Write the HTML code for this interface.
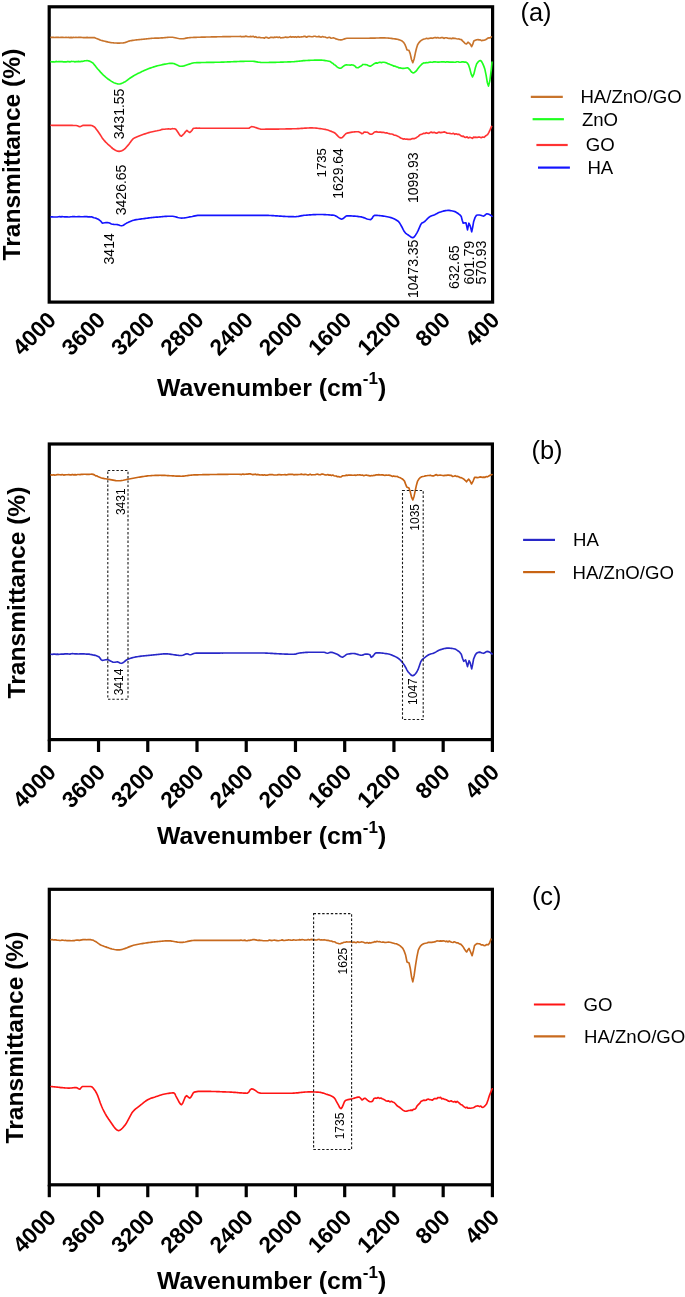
<!DOCTYPE html>
<html><head><meta charset="utf-8"><title>FTIR</title>
<style>html,body{margin:0;padding:0;background:#fff;overflow:hidden;}svg{display:block;will-change:transform;}text{font-family:"Liberation Sans",sans-serif;}</style>
</head><body>
<svg width="685" height="1297" viewBox="0 0 685 1297">
<rect width="685" height="1297" fill="#fff"/>
<rect x="49.2" y="6.8" width="443.40" height="295.30" fill="none" stroke="#000" stroke-width="3.2" stroke-linejoin="miter"/>
<text x="57.40" y="321.30" font-size="22.6" font-weight="bold" text-anchor="end" transform="rotate(-45 57.40 321.30)">4000</text>
<text x="106.67" y="321.30" font-size="22.6" font-weight="bold" text-anchor="end" transform="rotate(-45 106.67 321.30)">3600</text>
<text x="155.93" y="321.30" font-size="22.6" font-weight="bold" text-anchor="end" transform="rotate(-45 155.93 321.30)">3200</text>
<text x="205.20" y="321.30" font-size="22.6" font-weight="bold" text-anchor="end" transform="rotate(-45 205.20 321.30)">2800</text>
<text x="254.47" y="321.30" font-size="22.6" font-weight="bold" text-anchor="end" transform="rotate(-45 254.47 321.30)">2400</text>
<text x="303.73" y="321.30" font-size="22.6" font-weight="bold" text-anchor="end" transform="rotate(-45 303.73 321.30)">2000</text>
<text x="353.00" y="321.30" font-size="22.6" font-weight="bold" text-anchor="end" transform="rotate(-45 353.00 321.30)">1600</text>
<text x="402.27" y="321.30" font-size="22.6" font-weight="bold" text-anchor="end" transform="rotate(-45 402.27 321.30)">1200</text>
<text x="451.53" y="321.30" font-size="22.6" font-weight="bold" text-anchor="end" transform="rotate(-45 451.53 321.30)">800</text>
<text x="500.80" y="321.30" font-size="22.6" font-weight="bold" text-anchor="end" transform="rotate(-45 500.80 321.30)">400</text>
<text x="157" y="395.8" font-size="24.8" font-weight="bold">Wavenumber (cm<tspan dy="-11.5" font-size="17">-1</tspan><tspan dy="11.5">)</tspan></text>
<text x="19.9" y="154.6" font-size="24.6" font-weight="bold" text-anchor="middle" transform="rotate(-90 19.9 154.6)">Transmittance (%)</text>
<rect x="49.3" y="444.0" width="443.10" height="295.60" fill="none" stroke="#000" stroke-width="3.2" stroke-linejoin="miter"/>
<line x1="49.30" y1="739.60" x2="49.30" y2="752.00" stroke="#000" stroke-width="3.2"/>
<text x="57.50" y="773.60" font-size="22.6" font-weight="bold" text-anchor="end" transform="rotate(-45 57.50 773.60)">4000</text>
<line x1="98.53" y1="739.60" x2="98.53" y2="752.00" stroke="#000" stroke-width="3.2"/>
<text x="106.73" y="773.60" font-size="22.6" font-weight="bold" text-anchor="end" transform="rotate(-45 106.73 773.60)">3600</text>
<line x1="147.77" y1="739.60" x2="147.77" y2="752.00" stroke="#000" stroke-width="3.2"/>
<text x="155.97" y="773.60" font-size="22.6" font-weight="bold" text-anchor="end" transform="rotate(-45 155.97 773.60)">3200</text>
<line x1="197.00" y1="739.60" x2="197.00" y2="752.00" stroke="#000" stroke-width="3.2"/>
<text x="205.20" y="773.60" font-size="22.6" font-weight="bold" text-anchor="end" transform="rotate(-45 205.20 773.60)">2800</text>
<line x1="246.23" y1="739.60" x2="246.23" y2="752.00" stroke="#000" stroke-width="3.2"/>
<text x="254.43" y="773.60" font-size="22.6" font-weight="bold" text-anchor="end" transform="rotate(-45 254.43 773.60)">2400</text>
<line x1="295.47" y1="739.60" x2="295.47" y2="752.00" stroke="#000" stroke-width="3.2"/>
<text x="303.67" y="773.60" font-size="22.6" font-weight="bold" text-anchor="end" transform="rotate(-45 303.67 773.60)">2000</text>
<line x1="344.70" y1="739.60" x2="344.70" y2="752.00" stroke="#000" stroke-width="3.2"/>
<text x="352.90" y="773.60" font-size="22.6" font-weight="bold" text-anchor="end" transform="rotate(-45 352.90 773.60)">1600</text>
<line x1="393.93" y1="739.60" x2="393.93" y2="752.00" stroke="#000" stroke-width="3.2"/>
<text x="402.13" y="773.60" font-size="22.6" font-weight="bold" text-anchor="end" transform="rotate(-45 402.13 773.60)">1200</text>
<line x1="443.17" y1="739.60" x2="443.17" y2="752.00" stroke="#000" stroke-width="3.2"/>
<text x="451.37" y="773.60" font-size="22.6" font-weight="bold" text-anchor="end" transform="rotate(-45 451.37 773.60)">800</text>
<line x1="492.40" y1="739.60" x2="492.40" y2="752.00" stroke="#000" stroke-width="3.2"/>
<text x="500.60" y="773.60" font-size="22.6" font-weight="bold" text-anchor="end" transform="rotate(-45 500.60 773.60)">400</text>
<text x="157" y="844.4" font-size="24.8" font-weight="bold">Wavenumber (cm<tspan dy="-11.5" font-size="17">-1</tspan><tspan dy="11.5">)</tspan></text>
<text x="24.8" y="592.5" font-size="24.6" font-weight="bold" text-anchor="middle" transform="rotate(-90 24.8 592.5)">Transmittance (%)</text>
<rect x="49.3" y="889.3" width="443.10" height="295.50" fill="none" stroke="#000" stroke-width="3.2" stroke-linejoin="miter"/>
<line x1="49.30" y1="1184.80" x2="49.30" y2="1197.20" stroke="#000" stroke-width="3.2"/>
<text x="57.50" y="1218.80" font-size="22.6" font-weight="bold" text-anchor="end" transform="rotate(-45 57.50 1218.80)">4000</text>
<line x1="98.53" y1="1184.80" x2="98.53" y2="1197.20" stroke="#000" stroke-width="3.2"/>
<text x="106.73" y="1218.80" font-size="22.6" font-weight="bold" text-anchor="end" transform="rotate(-45 106.73 1218.80)">3600</text>
<line x1="147.77" y1="1184.80" x2="147.77" y2="1197.20" stroke="#000" stroke-width="3.2"/>
<text x="155.97" y="1218.80" font-size="22.6" font-weight="bold" text-anchor="end" transform="rotate(-45 155.97 1218.80)">3200</text>
<line x1="197.00" y1="1184.80" x2="197.00" y2="1197.20" stroke="#000" stroke-width="3.2"/>
<text x="205.20" y="1218.80" font-size="22.6" font-weight="bold" text-anchor="end" transform="rotate(-45 205.20 1218.80)">2800</text>
<line x1="246.23" y1="1184.80" x2="246.23" y2="1197.20" stroke="#000" stroke-width="3.2"/>
<text x="254.43" y="1218.80" font-size="22.6" font-weight="bold" text-anchor="end" transform="rotate(-45 254.43 1218.80)">2400</text>
<line x1="295.47" y1="1184.80" x2="295.47" y2="1197.20" stroke="#000" stroke-width="3.2"/>
<text x="303.67" y="1218.80" font-size="22.6" font-weight="bold" text-anchor="end" transform="rotate(-45 303.67 1218.80)">2000</text>
<line x1="344.70" y1="1184.80" x2="344.70" y2="1197.20" stroke="#000" stroke-width="3.2"/>
<text x="352.90" y="1218.80" font-size="22.6" font-weight="bold" text-anchor="end" transform="rotate(-45 352.90 1218.80)">1600</text>
<line x1="393.93" y1="1184.80" x2="393.93" y2="1197.20" stroke="#000" stroke-width="3.2"/>
<text x="402.13" y="1218.80" font-size="22.6" font-weight="bold" text-anchor="end" transform="rotate(-45 402.13 1218.80)">1200</text>
<line x1="443.17" y1="1184.80" x2="443.17" y2="1197.20" stroke="#000" stroke-width="3.2"/>
<text x="451.37" y="1218.80" font-size="22.6" font-weight="bold" text-anchor="end" transform="rotate(-45 451.37 1218.80)">800</text>
<line x1="492.40" y1="1184.80" x2="492.40" y2="1197.20" stroke="#000" stroke-width="3.2"/>
<text x="500.60" y="1218.80" font-size="22.6" font-weight="bold" text-anchor="end" transform="rotate(-45 500.60 1218.80)">400</text>
<text x="157" y="1289.4" font-size="24.8" font-weight="bold">Wavenumber (cm<tspan dy="-11.5" font-size="17">-1</tspan><tspan dy="11.5">)</tspan></text>
<text x="23.4" y="1037.5" font-size="24.6" font-weight="bold" text-anchor="middle" transform="rotate(-90 23.4 1037.5)">Transmittance (%)</text>
<polyline points="51.0,37.40 52.2,37.38 53.5,37.26 54.7,37.51 56.0,37.36 57.2,37.38 58.5,37.34 59.7,37.45 61.0,37.33 62.2,37.32 63.5,37.42 64.7,37.46 66.0,37.35 67.2,37.46 68.5,37.41 69.7,37.59 71.0,37.34 72.2,37.60 73.4,37.44 74.7,37.47 75.9,37.37 77.2,37.54 78.4,37.39 79.7,37.44 80.9,37.35 82.2,37.45 83.4,37.65 84.7,37.66 85.9,37.60 87.2,37.39 88.4,37.68 89.7,37.67 90.9,37.65 92.2,37.49 93.4,37.60 94.7,37.64 95.9,38.17 97.2,38.71 98.5,39.31 99.7,39.87 101.0,40.30 102.3,40.64 103.6,40.98 104.9,41.31 106.2,41.62 107.5,41.92 108.7,42.19 110.0,42.43 111.3,42.63 112.6,42.79 113.9,42.90 115.1,42.97 116.2,43.04 117.3,43.08 118.5,43.10 119.7,43.08 120.8,43.04 122.0,42.98 123.2,42.90 124.4,42.72 125.5,42.38 126.7,41.95 127.9,41.50 129.0,41.09 130.2,40.80 131.5,40.58 132.7,40.38 134.0,40.20 135.3,40.04 136.6,39.89 137.8,39.75 139.1,39.62 140.4,39.49 141.7,39.36 142.9,39.23 144.2,39.10 145.4,38.97 146.5,38.84 147.7,38.71 148.9,38.59 150.1,38.47 151.2,38.38 152.4,38.30 153.7,38.24 154.9,38.19 156.2,38.14 157.5,38.10 158.7,38.06 160.0,38.00 161.3,37.92 162.5,37.82 163.8,37.71 165.1,37.59 166.3,37.47 167.6,37.37 168.9,37.28 170.1,37.22 171.4,37.20 172.6,37.27 173.8,37.45 175.1,37.71 176.3,38.00 177.5,38.29 178.8,38.55 180.0,38.73 181.2,38.80 182.5,38.74 183.7,38.59 185.0,38.39 186.2,38.15 187.5,37.92 188.7,37.72 190.0,37.60 191.2,37.53 192.5,37.46 193.8,37.40 195.0,37.35 196.2,37.31 197.5,37.27 198.8,37.23 200.0,37.20 201.3,37.17 202.5,37.14 203.8,37.11 205.1,37.07 206.3,37.04 207.6,37.01 208.9,36.98 210.1,36.95 211.4,36.93 212.7,36.90 213.9,36.87 215.2,36.84 216.4,36.81 217.7,36.79 219.0,36.76 220.2,36.74 221.5,36.71 222.8,36.69 224.0,36.66 225.3,36.64 226.6,36.62 227.8,36.60 229.1,36.58 230.4,36.56 231.6,36.54 232.9,36.52 234.2,36.51 235.4,36.49 236.7,36.48 237.9,36.47 239.2,36.45 240.5,36.36 241.7,36.82 243.0,36.50 244.3,36.65 245.5,36.14 246.8,36.43 248.1,36.61 249.3,36.73 250.6,36.40 251.9,36.75 253.1,36.30 254.4,37.11 255.7,36.66 256.9,37.46 258.2,37.42 259.5,37.22 260.7,37.74 262.0,37.70 263.2,37.72 264.5,38.15 265.7,37.22 267.0,37.33 268.2,38.14 269.4,37.96 270.7,37.26 271.9,37.31 273.2,37.60 274.4,37.18 275.6,37.32 276.9,37.01 278.1,37.64 279.4,36.97 280.6,37.85 281.8,37.74 283.1,37.57 284.3,37.51 285.5,37.07 286.8,37.34 288.0,37.39 289.3,37.07 290.5,36.62 291.7,37.15 293.0,36.81 294.2,37.07 295.5,36.85 296.7,37.35 297.9,36.57 299.2,37.12 300.4,37.03 301.7,36.87 302.9,36.80 304.1,36.37 305.3,36.44 306.6,37.23 307.8,36.48 309.0,36.41 310.2,36.52 311.5,36.76 312.7,36.74 313.9,36.21 315.2,36.21 316.4,36.70 317.6,36.70 318.8,36.40 320.1,36.86 321.3,37.11 322.5,36.49 323.7,37.00 325.0,37.02 326.2,37.53 327.4,37.83 328.6,37.44 329.9,37.42 331.1,38.22 332.3,38.00 333.5,37.75 334.8,38.37 336.0,38.91 337.3,39.27 338.5,39.59 339.8,39.81 341.0,39.90 342.2,39.74 343.4,39.34 344.6,38.87 345.8,38.47 347.0,38.30 348.2,38.29 349.4,38.28 350.7,38.27 351.9,38.26 353.1,38.26 354.3,38.25 355.6,38.25 356.8,38.24 358.0,38.24 359.2,38.24 360.4,38.24 361.7,38.23 362.9,38.23 364.1,38.23 365.3,38.22 366.6,38.22 367.8,38.21 369.0,38.20 370.2,38.19 371.4,38.16 372.6,38.14 373.9,38.11 375.1,38.07 376.3,38.04 377.5,38.00 378.7,37.97 380.0,37.94 381.2,37.92 382.4,37.91 383.6,37.90 384.9,37.92 386.1,37.97 387.4,38.04 388.7,38.15 389.9,38.27 391.2,38.41 392.5,38.56 393.7,38.73 395.0,38.90 396.2,39.08 397.4,39.31 398.6,39.60 399.8,39.96 401.0,40.40 402.4,41.24 403.8,42.60 404.9,44.45 406.0,47.00 407.0,49.90 407.9,50.06 408.9,50.20 410.2,53.60 411.5,59.54 412.8,62.70 414.1,58.96 415.4,52.80 416.5,48.29 417.6,44.80 418.8,42.82 420.1,41.40 421.3,40.40 422.8,39.51 424.2,39.00 425.4,38.69 426.6,38.27 427.9,38.72 429.1,38.40 430.3,37.96 431.5,38.06 432.7,38.31 433.9,37.81 435.1,37.45 436.4,37.88 437.6,37.54 438.8,37.90 440.1,38.05 441.4,37.56 442.6,37.49 443.9,38.43 445.2,37.78 446.4,37.78 447.7,38.13 449.0,38.37 450.3,38.41 451.6,38.65 452.8,38.09 454.1,38.39 455.4,38.43 456.6,38.73 457.9,38.94 459.2,39.00 460.3,39.54 461.4,39.62 462.5,40.89 463.6,41.90 465.1,43.45 466.5,44.00 468.0,42.20 469.5,43.30 470.6,44.70 471.6,46.70 472.7,44.42 473.8,41.10 475.3,40.32 476.8,39.70 478.0,39.65 479.1,39.89 480.3,39.87 481.4,40.61 482.6,40.40 484.1,40.14 485.5,39.70 486.7,38.98 487.8,38.13 489.0,37.88 490.1,37.92 491.3,36.80" fill="none" stroke="#c8742c" stroke-width="1.65" stroke-linejoin="round" stroke-linecap="round"/>
<polyline points="51.0,61.70 52.3,61.81 53.5,61.78 54.8,61.96 56.0,61.42 57.3,61.76 58.6,61.51 59.8,61.64 61.1,61.51 62.3,61.61 63.6,61.94 64.9,61.84 66.1,61.91 67.4,61.45 68.7,61.58 69.9,61.87 71.2,61.42 72.4,61.51 73.7,61.45 75.0,61.89 76.2,61.54 77.5,61.65 78.7,61.41 80.0,61.70 81.2,61.36 82.3,61.36 83.5,61.23 84.6,60.71 85.8,60.70 87.0,60.68 88.2,60.74 89.3,61.13 90.5,61.59 91.7,62.30 92.9,62.91 94.0,64.35 95.2,65.78 96.3,67.30 97.5,68.70 98.7,70.02 99.9,71.36 101.0,72.68 102.2,73.94 103.4,75.10 104.6,76.15 105.7,77.16 106.9,78.10 108.0,78.99 109.2,79.80 110.4,80.58 111.5,81.35 112.7,82.05 113.8,82.65 115.0,83.10 116.4,83.52 117.7,83.86 119.1,84.00 120.4,83.82 121.8,83.36 123.1,82.75 124.4,82.10 125.6,81.44 126.7,80.63 127.9,79.73 129.0,78.83 130.2,78.00 131.4,77.23 132.6,76.49 133.7,75.78 134.9,75.10 136.1,74.46 137.2,73.86 138.4,73.27 139.6,72.70 140.7,72.14 141.9,71.60 143.1,71.06 144.2,70.52 145.4,69.99 146.6,69.48 147.8,68.99 148.9,68.53 150.1,68.10 151.3,67.67 152.6,67.26 153.8,66.85 155.1,66.47 156.3,66.11 157.5,65.78 158.8,65.47 160.0,65.20 161.2,64.94 162.4,64.68 163.7,64.42 164.9,64.17 166.1,63.94 167.3,63.73 168.5,63.55 169.8,63.42 171.0,63.33 172.2,63.30 173.5,63.47 174.8,63.89 176.1,64.48 177.3,65.12 178.6,65.71 179.9,66.13 181.2,66.30 182.5,66.19 183.9,65.89 185.2,65.47 186.6,64.99 188.0,64.51 189.3,64.10 190.5,63.72 191.8,63.32 193.0,62.98 194.2,62.80 195.4,62.74 196.7,62.68 197.9,62.64 199.1,62.59 200.3,62.56 201.6,62.52 202.8,62.49 204.0,62.47 205.3,62.45 206.5,62.43 207.7,62.41 208.9,62.39 210.2,62.37 211.4,62.36 212.6,62.34 213.9,62.32 215.1,62.30 216.3,62.28 217.5,62.26 218.8,62.23 220.0,62.20 221.3,62.16 222.5,62.12 223.8,62.08 225.0,62.04 226.3,61.99 227.6,61.94 228.8,61.89 230.1,61.83 231.3,61.78 232.6,61.73 233.9,61.67 235.1,61.62 236.4,61.57 237.6,61.52 238.9,61.47 240.2,61.43 241.4,61.38 242.7,61.34 243.9,61.31 245.2,61.28 246.5,61.25 247.7,61.23 249.0,61.21 250.2,61.20 251.5,61.20 252.8,61.26 254.1,61.40 255.4,61.61 256.8,61.85 258.1,62.09 259.4,62.30 260.7,62.44 262.0,62.50 263.2,62.50 264.5,62.49 265.7,62.49 267.0,62.47 268.2,62.46 269.4,62.44 270.7,62.42 271.9,62.40 273.2,62.38 274.4,62.35 275.6,62.32 276.9,62.29 278.1,62.25 279.4,62.22 280.6,62.18 281.8,62.14 283.1,62.09 284.3,62.05 285.6,62.00 286.8,61.96 288.0,61.91 289.3,61.86 290.5,61.81 291.8,61.75 293.0,61.70 294.3,61.63 295.6,61.52 296.9,61.39 298.2,61.25 299.5,61.10 300.8,60.95 302.1,60.81 303.4,60.68 304.7,60.58 306.0,60.50 307.2,60.45 308.4,60.39 309.6,60.34 310.8,60.29 312.0,60.25 313.2,60.20 314.4,60.17 315.6,60.14 316.8,60.12 318.0,60.10 319.2,60.10 320.4,60.12 321.6,60.19 322.9,60.29 324.1,60.42 325.3,60.58 326.6,60.77 327.8,60.98 329.0,61.20 330.3,61.54 331.6,62.66 332.8,63.20 334.1,64.63 335.4,65.27 336.7,66.56 337.9,67.43 339.2,68.08 340.5,68.20 341.7,67.65 342.9,66.61 344.2,65.67 345.4,65.00 346.6,64.79 347.8,65.02 349.0,65.05 350.3,65.17 351.5,64.80 352.7,65.00 353.8,65.37 354.9,66.06 356.1,67.38 357.2,67.70 358.4,67.68 359.5,66.78 360.7,66.29 361.9,65.42 363.0,64.45 364.2,64.50 365.5,64.65 366.8,64.79 368.1,65.42 369.4,66.11 370.7,66.10 371.8,65.35 372.9,64.58 374.0,63.80 375.2,63.17 376.5,62.88 377.7,63.11 379.0,62.37 380.2,62.25 381.5,62.60 382.7,62.30 383.9,62.29 385.2,62.51 386.4,62.85 387.7,63.59 388.9,63.87 390.2,64.51 391.4,65.02 392.7,65.60 393.9,66.12 395.1,66.18 396.4,66.85 397.6,67.05 398.8,67.88 400.0,67.91 401.3,68.17 402.5,68.34 403.7,68.40 404.9,68.24 406.1,67.96 407.3,67.80 408.5,68.33 409.7,69.60 410.8,71.10 412.0,72.37 413.2,72.90 414.5,72.49 415.8,71.40 417.1,69.86 418.4,68.08 419.8,66.27 421.1,64.96 422.4,63.72 423.7,62.90 425.0,62.98 426.3,62.62 427.5,62.71 428.8,62.42 430.1,62.03 431.4,62.29 432.7,62.30 433.9,61.75 435.2,61.83 436.5,62.00 437.8,62.17 439.0,62.16 440.3,62.04 441.6,61.77 442.8,61.86 444.1,61.84 445.4,62.29 446.7,61.84 447.9,61.92 449.2,62.11 450.5,62.10 451.7,62.04 453.0,62.09 454.3,62.22 455.5,62.25 456.8,61.77 458.1,61.72 459.4,62.25 460.6,62.25 461.9,61.92 463.2,61.94 464.4,62.11 465.7,62.00 467.1,62.85 468.5,64.70 469.8,68.71 471.2,74.16 472.5,76.90 473.9,73.94 475.3,68.07 476.7,63.80 477.9,62.20 479.1,60.98 480.3,60.50 481.4,61.28 482.6,63.31 483.8,66.14 484.9,69.30 486.1,75.13 487.3,82.48 488.5,86.10 489.9,80.52 491.3,69.30 492.0,62.00" fill="none" stroke="#1eff1e" stroke-width="1.65" stroke-linejoin="round" stroke-linecap="round"/>
<polyline points="51.0,125.30 52.2,125.31 53.5,125.32 54.8,125.32 56.0,125.33 57.2,125.34 58.5,125.34 59.8,125.35 61.0,125.35 62.2,125.36 63.5,125.36 64.8,125.37 66.0,125.38 67.2,125.38 68.5,125.40 69.8,125.41 71.0,125.42 72.2,125.44 73.5,125.46 74.8,125.48 76.0,125.50 77.3,125.80 78.6,126.32 79.9,126.60 81.1,126.26 82.3,125.64 83.5,125.30 84.7,125.30 85.8,125.30 87.0,125.30 88.2,125.30 89.3,125.30 90.5,125.30 91.7,125.51 92.8,126.03 94.0,126.70 95.2,127.70 96.3,129.15 97.5,130.83 98.7,132.50 99.9,134.22 101.1,136.08 102.2,137.90 103.4,139.50 104.6,140.85 105.7,142.10 106.9,143.26 108.0,144.35 109.2,145.40 110.4,146.45 111.5,147.50 112.7,148.49 113.8,149.34 115.0,150.00 116.4,150.65 117.7,151.18 119.1,151.40 120.5,151.19 121.8,150.67 123.2,150.00 124.4,149.19 125.6,148.04 126.7,146.72 127.9,145.40 129.1,143.99 130.2,142.39 131.4,140.80 132.5,139.40 133.7,138.40 134.9,137.73 136.1,137.20 137.2,136.75 138.4,136.30 139.7,135.79 141.0,135.29 142.3,134.80 143.6,134.33 144.9,133.88 146.2,133.45 147.5,133.04 148.8,132.65 150.1,132.30 151.2,132.01 152.4,131.75 153.6,131.51 154.7,131.27 155.8,131.04 157.0,130.80 158.3,130.51 159.6,130.19 160.9,129.83 162.2,129.36 163.5,129.21 164.8,129.20 166.0,128.98 167.2,129.05 168.5,128.72 169.7,128.98 170.9,129.07 172.2,128.67 173.4,128.75 174.6,128.70 175.8,129.33 176.9,130.80 178.1,132.48 179.2,134.19 180.3,135.68 181.5,136.10 182.8,134.92 184.2,133.51 185.6,131.53 186.9,130.40 188.3,131.57 189.7,132.50 190.8,131.65 191.9,130.43 193.1,128.59 194.2,128.20 195.4,128.14 196.7,128.03 197.9,128.24 199.2,128.05 200.4,128.20 201.7,128.20 202.9,128.20 204.2,128.20 205.4,128.20 206.7,128.20 207.9,128.20 209.1,128.20 210.4,128.20 211.6,128.20 212.9,128.20 214.1,128.20 215.4,128.20 216.6,128.20 217.9,128.20 219.1,128.20 220.4,128.20 221.6,128.20 222.8,128.20 224.1,128.20 225.3,128.20 226.6,128.20 227.8,128.20 229.1,128.20 230.3,128.20 231.6,128.20 232.8,128.20 234.1,128.20 235.3,128.20 236.5,128.20 237.8,128.20 239.0,128.20 240.3,128.20 241.5,128.20 242.8,128.20 244.0,128.20 245.3,128.20 246.5,128.20 247.8,128.20 249.0,128.20 250.2,127.40 251.5,126.60 252.8,126.71 254.1,127.01 255.4,127.42 256.8,127.90 258.1,128.38 259.4,128.79 260.7,129.09 262.0,129.20 263.3,129.20 264.5,129.20 265.8,129.19 267.1,129.19 268.4,129.18 269.6,129.17 270.9,129.16 272.2,129.15 273.4,129.13 274.7,129.12 276.0,129.10 277.2,129.09 278.5,129.07 279.8,129.05 281.1,129.03 282.3,129.00 283.6,128.98 284.9,128.96 286.1,128.93 287.4,128.90 288.7,128.88 289.9,128.85 291.2,128.82 292.5,128.79 293.8,128.76 295.0,128.73 296.3,128.70 297.5,128.66 298.8,128.60 300.0,128.52 301.2,128.44 302.4,128.35 303.6,128.25 304.9,128.16 306.1,128.08 307.3,128.01 308.6,127.95 309.8,127.91 311.0,127.90 312.3,127.92 313.6,127.97 314.9,128.05 316.2,128.16 317.5,128.29 318.8,128.45 320.1,128.62 321.4,128.80 322.7,129.00 324.0,129.20 325.2,129.43 326.5,129.71 327.8,130.06 329.0,130.45 330.2,130.90 331.5,131.39 332.8,131.92 334.0,132.50 335.2,133.29 336.3,134.42 337.5,135.67 338.7,136.82 339.8,137.67 341.0,138.00 342.2,137.53 343.4,136.41 344.6,135.02 345.8,133.79 347.0,133.10 348.3,132.82 349.6,132.57 350.8,132.35 352.1,132.15 353.4,131.99 354.7,131.87 355.9,131.78 357.2,131.72 358.5,131.70 359.6,132.19 360.6,132.70 361.7,133.60 362.8,133.48 363.9,132.17 365.0,132.00 366.3,132.29 367.7,132.29 369.0,133.49 370.4,134.26 371.7,134.20 373.1,133.38 374.5,132.00 375.7,131.84 376.9,131.69 378.1,132.24 379.4,132.02 380.6,132.09 381.8,132.40 383.0,132.22 384.2,132.53 385.4,132.98 386.6,132.88 387.9,133.32 389.1,133.63 390.3,133.96 391.5,133.98 392.7,134.20 394.1,135.12 395.4,135.20 396.8,135.85 398.2,136.40 399.4,137.10 400.6,138.02 401.9,138.36 403.1,139.10 404.3,138.72 405.5,139.20 406.8,139.11 408.1,139.36 409.4,139.32 410.7,139.34 412.0,138.66 413.3,138.58 414.6,138.60 415.8,138.03 417.1,137.15 418.3,136.40 419.6,135.09 421.0,134.36 422.4,133.93 423.7,133.30 425.0,133.54 426.3,132.68 427.6,133.19 429.0,133.33 430.3,132.39 431.6,132.13 432.9,132.80 434.2,132.22 435.5,132.92 436.8,133.20 438.1,132.34 439.4,132.17 440.7,132.61 442.0,132.40 443.3,132.18 444.6,131.92 445.9,132.44 447.2,133.22 448.5,133.26 449.8,133.31 451.1,133.70 452.3,133.63 453.5,133.32 454.8,134.33 456.0,133.80 457.2,134.36 458.4,134.20 459.6,134.64 460.8,135.75 462.0,136.34 463.3,136.09 464.5,137.15 465.7,137.50 467.1,136.85 468.4,138.03 469.8,137.28 471.2,137.70 472.4,138.36 473.6,137.11 474.9,137.36 476.1,137.17 477.3,137.54 478.5,137.00 479.9,137.19 481.2,137.72 482.6,136.98 484.0,137.30 485.2,136.29 486.4,135.41 487.6,134.60 488.9,132.44 490.3,129.42 491.6,126.40" fill="none" stroke="#ff3333" stroke-width="1.65" stroke-linejoin="round" stroke-linecap="round"/>
<polyline points="51.0,216.90 52.2,216.71 53.5,216.97 54.7,216.95 55.9,216.97 57.2,216.98 58.4,216.71 59.6,216.67 60.9,216.90 62.1,216.63 63.4,216.76 64.6,216.85 65.8,216.87 67.1,216.84 68.3,216.97 69.5,216.97 70.8,216.70 72.0,216.69 73.2,216.56 74.5,216.60 75.7,216.72 76.9,216.79 78.2,216.62 79.4,216.56 80.7,216.79 81.9,216.78 83.1,216.71 84.4,216.56 85.6,216.58 86.8,216.61 88.1,216.84 89.3,216.70 90.5,216.94 91.7,216.77 92.8,217.41 94.0,217.75 95.2,217.98 96.4,218.40 97.7,218.98 99.1,219.78 100.4,220.80 102.2,223.10 103.5,223.01 104.8,222.80 106.1,222.59 107.4,222.50 108.7,222.75 110.1,223.33 111.4,223.94 112.7,224.30 113.9,224.39 115.1,224.45 116.2,224.51 117.4,224.60 118.8,224.98 120.1,225.52 121.5,225.80 122.8,225.49 124.1,224.75 125.4,223.86 126.7,223.10 127.9,222.55 129.0,221.99 130.2,221.45 131.4,220.95 132.5,220.53 133.7,220.20 135.0,219.92 136.3,219.66 137.6,219.44 138.9,219.24 140.2,219.06 141.5,218.89 142.8,218.73 144.1,218.57 145.4,218.40 146.6,218.24 147.8,218.09 149.0,217.94 150.2,217.80 151.4,217.66 152.6,217.53 153.8,217.41 155.0,217.30 156.3,217.19 157.5,217.07 158.8,216.96 160.0,216.84 161.3,216.73 162.6,216.62 163.8,216.52 165.1,216.43 166.4,216.36 167.6,216.29 168.9,216.24 170.1,216.21 171.4,216.20 172.7,216.28 174.0,216.50 175.3,216.80 176.6,217.15 177.8,217.50 179.1,217.80 180.4,218.02 181.7,218.10 183.0,218.05 184.4,217.91 185.7,217.71 187.0,217.46 188.3,217.20 189.7,216.93 191.0,216.70 192.3,216.45 193.7,216.14 195.1,215.84 196.4,215.57 197.8,215.37 199.1,215.30 200.4,215.30 201.6,215.30 202.9,215.30 204.1,215.30 205.4,215.30 206.6,215.30 207.9,215.30 209.2,215.30 210.4,215.30 211.7,215.30 212.9,215.30 214.2,215.30 215.5,215.30 216.7,215.30 218.0,215.30 219.2,215.30 220.5,215.30 221.7,215.30 223.0,215.30 224.3,215.30 225.5,215.30 226.8,215.30 228.0,215.30 229.3,215.30 230.6,215.30 231.8,215.30 233.1,215.30 234.3,215.30 235.6,215.30 236.8,215.30 238.1,215.30 239.4,215.30 240.6,215.30 241.9,215.30 243.1,215.30 244.4,215.30 245.6,215.30 246.9,215.30 248.2,215.30 249.4,215.30 250.7,215.30 251.9,215.30 253.2,215.30 254.5,215.30 255.7,215.30 257.0,215.30 258.2,215.30 259.5,215.30 260.7,215.30 262.0,215.30 263.3,215.31 264.5,215.32 265.8,215.35 267.0,215.39 268.3,215.44 269.5,215.49 270.8,215.55 272.1,215.62 273.3,215.69 274.6,215.76 275.8,215.84 277.1,215.92 278.4,216.00 279.6,216.08 280.9,216.16 282.1,216.24 283.4,216.31 284.6,216.38 285.9,216.45 287.2,216.51 288.4,216.56 289.7,216.61 290.9,216.65 292.2,216.68 293.4,216.69 294.7,216.70 295.9,216.65 297.1,216.52 298.4,216.33 299.6,216.10 300.8,215.86 302.1,215.63 303.3,215.44 304.5,215.30 305.7,215.20 306.9,215.10 308.2,215.01 309.4,214.92 310.6,214.83 311.9,214.75 313.1,214.68 314.3,214.62 315.5,214.57 316.8,214.53 318.0,214.51 319.2,214.50 320.4,214.51 321.7,214.52 322.9,214.55 324.1,214.59 325.4,214.64 326.6,214.71 327.8,214.78 329.1,214.86 330.3,214.96 331.5,215.06 332.8,215.18 334.0,215.30 335.3,215.68 336.7,216.41 338.0,217.31 339.3,218.18 340.7,218.84 342.0,219.10 343.2,218.58 344.5,217.45 345.8,216.32 347.0,215.80 348.3,215.81 349.6,215.85 350.9,215.90 352.2,215.98 353.5,216.07 354.8,216.17 356.1,216.29 357.4,216.42 358.7,216.56 360.0,216.70 361.2,216.91 362.4,217.23 363.6,217.63 364.8,218.07 365.9,218.52 367.1,218.94 368.3,219.28 369.5,219.51 370.7,219.60 372.0,218.49 373.2,216.41 374.5,215.30 375.8,215.32 377.0,215.37 378.3,215.46 379.6,215.58 380.9,215.72 382.1,215.88 383.4,216.07 384.7,216.27 385.9,216.48 387.2,216.70 388.4,216.95 389.6,217.25 390.9,217.62 392.1,218.05 393.3,218.55 394.5,219.12 395.8,219.77 397.0,220.50 398.2,221.30 399.4,222.60 400.6,224.61 401.9,226.99 403.1,229.41 404.3,231.56 405.5,233.10 406.9,234.14 408.2,235.00 409.4,235.84 410.5,236.72 411.6,237.42 412.8,237.70 414.1,236.93 415.5,235.14 416.8,233.10 418.1,230.68 419.4,227.65 420.6,224.84 421.9,223.10 423.7,222.20 425.0,221.24 426.2,220.01 427.5,218.70 428.7,217.50 430.0,216.60 431.2,216.04 432.4,215.59 433.5,215.17 434.7,214.70 435.9,214.10 437.1,213.42 438.3,212.79 439.5,212.30 440.7,211.91 441.9,211.53 443.1,211.17 444.4,210.86 445.6,210.62 446.8,210.46 448.0,210.40 449.1,210.44 450.3,210.56 451.4,210.73 452.6,210.95 453.7,211.20 454.9,211.60 456.1,212.20 457.3,212.96 458.5,213.80 459.9,214.89 461.3,216.60 462.2,220.28 463.2,223.20 464.1,223.00 465.1,222.80 466.0,222.80 467.5,229.90 468.9,223.20 470.3,226.10 471.7,231.80 472.6,227.58 473.6,221.80 475.1,217.37 476.5,215.20 477.9,215.05 479.3,215.00 480.7,215.29 482.2,215.81 483.6,216.10 484.7,215.50 485.8,214.40 486.9,213.80 488.2,214.01 489.4,214.54 490.7,215.20 492.1,216.30" fill="none" stroke="#1414ff" stroke-width="1.65" stroke-linejoin="round" stroke-linecap="round"/>
<polyline points="51.0,474.90 52.3,475.06 53.5,474.72 54.8,475.14 56.0,475.04 57.3,474.62 58.6,474.55 59.8,474.75 61.1,474.86 62.3,474.51 63.6,475.06 64.9,474.88 66.1,474.78 67.4,474.75 68.7,474.51 69.9,474.88 71.2,474.86 72.4,474.42 73.7,474.87 75.0,474.59 76.2,474.92 77.5,474.54 78.7,474.45 80.0,474.60 81.3,474.39 82.6,474.43 83.9,474.22 85.2,474.23 86.6,474.36 87.9,474.37 89.2,474.35 90.5,474.30 91.8,474.18 93.1,474.39 94.4,474.87 95.7,475.83 97.0,475.93 98.3,476.83 99.6,477.29 100.9,477.73 102.2,478.10 103.4,478.36 104.5,478.59 105.7,478.81 106.9,479.02 108.1,479.22 109.2,479.41 110.4,479.60 111.8,479.84 113.1,480.11 114.5,480.37 115.8,480.59 117.2,480.74 118.5,480.80 119.7,480.75 120.8,480.63 122.0,480.44 123.2,480.21 124.4,479.95 125.6,479.68 126.7,479.43 127.9,479.20 129.2,478.96 130.5,478.72 131.8,478.47 133.2,478.22 134.5,477.98 135.8,477.74 137.1,477.51 138.4,477.30 139.7,477.09 141.0,476.88 142.3,476.67 143.6,476.46 144.9,476.27 146.2,476.09 147.5,475.93 148.8,475.80 150.1,475.70 151.3,475.62 152.6,475.55 153.8,475.48 155.1,475.42 156.3,475.37 157.5,475.33 158.8,475.31 160.0,475.30 161.2,475.31 162.5,475.33 163.7,475.37 164.9,475.43 166.2,475.49 167.4,475.56 168.6,475.63 169.9,475.71 171.1,475.79 172.4,475.87 173.6,475.94 174.8,476.01 176.1,476.07 177.3,476.13 178.5,476.17 179.8,476.19 181.0,476.20 182.3,476.17 183.6,476.08 184.9,475.94 186.2,475.77 187.5,475.59 188.8,475.41 190.1,475.23 191.4,475.08 192.7,474.96 194.0,474.90 195.2,474.87 196.5,474.84 197.8,474.81 199.0,474.78 200.2,474.75 201.5,474.72 202.8,474.69 204.0,474.67 205.2,474.64 206.5,474.62 207.8,474.59 209.0,474.57 210.2,474.55 211.5,474.52 212.8,474.50 214.0,474.48 215.2,474.46 216.5,474.45 217.8,474.43 219.0,474.41 220.2,474.39 221.5,474.38 222.8,474.36 224.0,474.35 225.2,474.34 226.5,474.32 227.8,474.31 229.0,474.30 230.2,474.29 231.5,474.28 232.8,474.27 234.0,474.26 235.2,474.25 236.5,474.24 237.8,474.24 239.0,474.23 240.2,474.31 241.5,474.61 242.8,473.99 244.0,474.39 245.2,474.22 246.5,474.09 247.8,474.11 249.0,473.93 250.2,473.84 251.5,474.20 252.8,474.61 254.1,474.44 255.4,474.12 256.8,474.82 258.1,474.39 259.4,474.94 260.7,474.95 262.0,474.90 263.3,475.17 264.5,474.81 265.8,475.30 267.1,475.07 268.4,474.82 269.6,474.51 270.9,474.62 272.2,474.48 273.4,474.82 274.7,475.05 276.0,474.97 277.2,474.86 278.5,474.65 279.8,474.49 281.1,474.94 282.3,474.80 283.6,474.77 284.9,474.66 286.1,474.85 287.4,474.65 288.7,474.34 289.9,474.42 291.2,474.35 292.5,474.33 293.8,474.86 295.0,474.69 296.3,474.50 297.6,474.60 298.8,474.46 300.1,474.49 301.3,474.14 302.6,474.48 303.9,474.58 305.1,474.37 306.4,474.51 307.6,474.95 308.9,474.87 310.1,474.12 311.4,474.90 312.7,474.77 313.9,474.78 315.2,474.77 316.4,474.24 317.7,474.17 319.0,474.63 320.2,474.80 321.5,474.14 322.7,474.06 324.0,474.50 325.2,474.93 326.5,474.98 327.8,474.52 329.0,475.19 330.2,474.90 331.5,475.59 332.8,475.06 334.0,475.70 335.1,476.05 336.3,476.04 337.4,476.75 338.6,476.47 339.7,477.00 341.1,476.85 342.4,475.81 343.8,475.80 345.0,475.63 346.2,475.17 347.5,475.35 348.7,475.05 349.9,475.12 351.1,475.18 352.4,475.29 353.6,475.21 354.8,475.07 356.1,475.34 357.3,474.93 358.5,475.00 359.8,474.71 361.1,475.26 362.4,475.06 363.8,475.69 365.1,475.31 366.4,475.07 367.7,475.43 369.0,475.60 370.2,475.99 371.4,475.50 372.7,475.74 373.9,475.23 375.1,475.35 376.3,474.77 377.6,474.81 378.8,474.66 380.0,475.00 381.2,474.93 382.5,474.89 383.8,475.16 385.0,475.33 386.2,475.06 387.5,475.20 388.8,475.12 390.0,475.36 391.2,475.75 392.5,476.39 393.8,475.93 395.0,476.40 396.2,476.52 397.3,476.44 398.5,477.29 399.6,477.55 400.8,478.10 402.0,478.77 403.3,479.73 404.5,481.10 405.6,484.14 406.7,486.90 407.8,487.41 408.9,487.90 410.2,491.47 411.5,497.08 412.8,500.00 414.1,496.18 415.4,489.80 416.5,484.91 417.6,481.10 419.1,478.73 420.5,477.40 421.7,476.83 423.0,476.44 424.2,476.20 425.4,475.84 426.6,475.77 427.9,475.50 429.1,475.55 430.3,475.18 431.5,475.72 432.7,475.90 433.9,475.81 435.1,475.11 436.4,474.64 437.6,475.53 438.8,475.20 440.1,475.16 441.3,475.28 442.6,475.45 443.8,475.68 445.1,475.39 446.3,475.36 447.6,475.08 448.8,475.07 450.1,475.32 451.3,475.43 452.6,476.50 453.8,476.18 455.1,475.68 456.3,476.40 457.5,476.38 458.7,476.78 460.0,477.67 461.2,477.62 462.4,478.33 463.6,478.90 465.1,480.27 466.5,481.80 467.6,480.29 468.7,479.20 470.1,481.10 471.6,484.00 473.1,481.04 474.6,477.40 475.9,477.39 477.3,477.68 478.6,477.49 479.9,476.91 481.3,477.12 482.6,477.40 483.8,477.10 485.0,477.42 486.1,476.55 487.3,476.87 488.5,476.20 489.6,475.59 490.8,474.94 492.0,474.50" fill="none" stroke="#c86414" stroke-width="1.65" stroke-linejoin="round" stroke-linecap="round"/>
<polyline points="51.0,654.30 52.3,654.35 53.5,654.19 54.8,654.07 56.0,654.34 57.3,654.16 58.6,654.33 59.8,654.21 61.1,654.12 62.3,654.03 63.6,654.10 64.9,653.90 66.1,653.92 67.4,653.88 68.7,654.05 69.9,654.08 71.2,653.72 72.4,653.67 73.7,653.78 75.0,653.90 76.2,653.79 77.5,653.91 78.7,653.99 80.0,653.80 81.3,653.88 82.6,653.91 83.9,653.76 85.2,654.02 86.5,654.13 87.8,654.07 89.1,654.12 90.4,654.52 91.7,654.60 92.9,654.97 94.0,655.07 95.2,655.32 96.4,655.70 97.5,656.16 98.7,656.70 99.9,657.92 101.0,659.57 102.2,660.40 103.4,660.27 104.6,660.00 105.7,659.73 106.9,659.60 108.1,659.80 109.2,660.30 110.4,660.95 111.6,661.60 112.7,662.10 113.9,662.30 115.1,662.20 116.2,662.00 117.4,661.90 118.6,662.26 119.9,662.94 121.1,663.30 122.5,662.96 123.8,662.10 125.2,661.01 126.5,659.96 127.9,659.20 129.2,658.72 130.6,658.28 131.9,657.88 133.2,657.52 134.5,657.21 135.9,656.93 137.2,656.70 138.5,656.50 139.8,656.33 141.1,656.17 142.4,656.03 143.8,655.89 145.1,655.76 146.4,655.63 147.7,655.50 148.9,655.37 150.2,655.25 151.4,655.13 152.6,655.01 153.8,654.89 155.1,654.78 156.3,654.66 157.5,654.54 158.8,654.42 160.0,654.30 161.2,654.15 162.4,653.99 163.6,653.86 164.8,653.80 166.1,653.83 167.4,653.91 168.7,654.03 169.9,654.18 171.2,654.36 172.5,654.55 173.8,654.75 175.1,654.94 176.4,655.12 177.6,655.27 178.9,655.39 180.2,655.47 181.5,655.50 182.8,655.23 184.2,654.65 185.6,654.07 186.9,653.80 188.0,654.03 189.1,654.47 190.2,654.70 191.4,654.47 192.6,653.95 193.8,653.44 195.0,653.20 196.2,653.19 197.5,653.18 198.7,653.17 200.0,653.16 201.2,653.15 202.4,653.14 203.7,653.14 204.9,653.13 206.2,653.12 207.4,653.11 208.6,653.11 209.9,653.10 211.1,653.09 212.4,653.09 213.6,653.08 214.9,653.08 216.1,653.07 217.3,653.07 218.6,653.06 219.8,653.06 221.1,653.05 222.3,653.05 223.5,653.04 224.8,653.04 226.0,653.04 227.3,653.03 228.5,653.03 229.7,653.03 231.0,653.03 232.2,653.02 233.5,653.02 234.7,653.02 235.9,653.02 237.2,653.01 238.4,653.01 239.7,653.01 240.9,653.01 242.1,653.01 243.4,653.01 244.6,653.01 245.9,653.00 247.1,653.00 248.4,653.00 249.6,653.00 250.8,653.00 252.1,653.00 253.3,653.00 254.6,653.00 255.8,653.00 257.0,653.00 258.3,653.00 259.5,653.00 260.8,653.00 262.0,653.00 263.3,653.01 264.5,653.04 265.8,653.08 267.0,653.14 268.3,653.21 269.6,653.28 270.8,653.36 272.1,653.44 273.4,653.53 274.6,653.61 275.9,653.68 277.1,653.74 278.4,653.80 279.7,653.85 281.0,653.91 282.3,653.96 283.6,654.02 284.9,654.07 286.1,654.13 287.4,654.17 288.7,654.21 290.0,654.25 291.3,654.28 292.6,654.29 293.9,654.30 295.0,654.19 296.2,653.90 297.3,653.55 298.5,653.22 299.6,653.00 300.9,652.86 302.1,652.72 303.4,652.60 304.7,652.49 305.9,652.39 307.2,652.31 308.5,652.25 309.7,652.21 311.0,652.20 312.3,652.20 313.6,652.20 314.9,652.20 316.2,652.20 317.5,652.20 318.8,652.20 320.1,652.20 321.4,652.20 322.7,652.20 324.0,652.20 325.1,652.46 326.3,652.94 327.4,653.20 328.5,652.94 329.6,652.46 330.7,652.20 332.0,652.33 333.3,652.68 334.6,653.18 335.9,653.74 337.2,654.30 338.5,655.04 339.8,655.96 341.1,656.76 342.4,657.10 343.5,656.71 344.7,655.82 345.9,654.87 347.0,654.30 348.3,654.04 349.6,653.82 351.0,653.65 352.3,653.54 353.6,653.50 355.0,653.63 356.3,653.94 357.6,654.35 359.0,654.76 360.4,655.07 361.7,655.20 363.1,654.89 364.4,654.31 365.8,654.00 367.2,654.07 368.5,654.29 369.9,654.70 371.2,657.30 372.5,656.60 373.8,655.05 375.0,653.50 376.3,652.80 377.5,652.82 378.7,652.86 379.9,652.94 381.1,653.04 382.4,653.16 383.6,653.30 384.8,653.45 386.0,653.62 387.2,653.80 388.4,654.02 389.6,654.32 390.9,654.70 392.1,655.14 393.3,655.66 394.5,656.23 395.8,656.87 397.0,657.56 398.2,658.30 399.5,659.28 400.8,660.58 402.0,662.11 403.3,663.81 404.6,665.60 405.8,667.72 407.0,670.12 408.2,672.00 409.4,673.31 410.5,674.50 411.6,675.36 412.8,675.70 414.1,675.13 415.5,673.74 416.8,672.00 418.1,669.43 419.4,665.80 420.6,662.22 421.9,659.80 423.7,658.30 425.0,657.35 426.2,656.41 427.5,655.54 428.7,654.79 430.0,654.20 431.3,653.80 432.5,653.48 433.8,653.10 434.9,652.57 436.1,651.88 437.2,651.16 438.4,650.49 439.5,650.00 440.7,649.60 441.9,649.22 443.1,648.86 444.4,648.56 445.6,648.32 446.8,648.16 448.0,648.10 449.1,648.13 450.3,648.21 451.4,648.34 452.6,648.51 453.7,648.70 454.9,649.05 456.1,649.62 457.3,650.36 458.5,651.20 459.9,652.40 461.3,654.20 462.5,658.23 463.7,661.30 464.6,660.60 465.6,659.90 466.6,663.25 467.5,666.60 469.1,660.70 470.3,663.20 471.7,668.90 472.6,664.65 473.6,659.00 475.1,655.34 476.5,653.30 477.9,652.45 479.3,652.10 480.7,652.41 482.2,652.99 483.6,653.30 484.7,652.81 485.8,651.89 486.9,651.40 488.2,651.61 489.4,652.13 490.7,652.80 492.1,654.00" fill="none" stroke="#2828c8" stroke-width="1.65" stroke-linejoin="round" stroke-linecap="round"/>
<polyline points="51.0,939.70 52.2,939.58 53.4,940.04 54.7,939.78 55.9,939.86 57.1,940.21 58.3,940.27 59.5,940.42 60.8,940.46 62.0,940.00 63.2,940.19 64.4,940.45 65.6,940.28 66.9,940.68 68.1,940.63 69.3,940.50 70.5,940.64 71.8,940.73 73.0,940.55 74.3,940.65 75.5,940.29 76.8,940.02 78.0,940.18 79.3,940.36 80.5,940.08 81.8,939.83 83.0,939.62 84.3,939.57 85.5,939.50 86.8,939.80 88.0,939.53 89.3,939.57 90.5,939.60 91.8,940.04 93.1,940.08 94.3,940.91 95.6,941.52 96.9,942.40 98.2,943.31 99.4,944.17 100.7,944.93 102.0,945.50 103.3,945.96 104.5,946.43 105.8,946.90 107.0,947.36 108.3,947.81 109.5,948.23 110.8,948.63 112.0,948.98 113.3,949.29 114.5,949.55 115.8,949.74 117.0,949.86 118.3,949.90 119.6,949.84 120.8,949.66 122.1,949.38 123.3,949.03 124.6,948.61 125.9,948.14 127.1,947.64 128.4,947.13 129.7,946.63 130.9,946.15 132.2,945.70 133.4,945.31 134.7,945.00 135.9,944.74 137.1,944.49 138.4,944.25 139.6,944.02 140.8,943.80 142.1,943.59 143.3,943.38 144.5,943.19 145.7,943.01 146.9,942.83 148.2,942.66 149.4,942.50 150.7,942.34 152.1,942.18 153.4,942.03 154.7,941.90 156.0,941.76 157.3,941.64 158.7,941.52 160.0,941.40 161.3,941.28 162.7,941.14 164.0,941.01 165.3,940.90 166.7,940.83 168.0,940.80 169.2,940.84 170.4,940.94 171.6,941.09 172.8,941.28 174.0,941.49 175.2,941.71 176.4,941.92 177.6,942.11 178.8,942.26 180.0,942.36 181.2,942.40 182.5,942.34 183.8,942.19 185.1,941.97 186.4,941.70 187.7,941.40 189.0,941.10 190.3,940.83 191.6,940.61 192.9,940.46 194.2,940.40 195.5,940.40 196.7,940.40 198.0,940.40 199.3,940.40 200.5,940.40 201.8,940.40 203.0,940.40 204.3,940.40 205.6,940.40 206.8,940.40 208.1,940.40 209.4,940.40 210.6,940.40 211.9,940.40 213.2,940.40 214.4,940.40 215.7,940.40 216.9,940.40 218.2,940.40 219.5,940.40 220.7,940.40 222.0,940.40 223.3,940.40 224.5,940.40 225.8,940.40 227.1,940.40 228.3,940.40 229.6,940.40 230.8,940.40 232.1,940.40 233.4,940.40 234.6,940.40 235.9,940.40 237.2,940.40 238.4,940.40 239.7,940.40 241.0,940.09 242.2,940.51 243.5,940.44 244.7,940.09 246.0,940.78 247.3,940.79 248.5,940.22 249.8,940.40 250.9,940.07 251.9,940.03 253.0,939.60 254.3,939.65 255.6,939.83 256.9,940.17 258.1,940.35 259.4,940.13 260.7,940.44 262.0,940.50 263.3,940.75 264.5,940.80 265.8,940.78 267.0,940.72 268.3,940.60 269.5,940.08 270.8,940.33 272.1,940.59 273.3,940.20 274.6,940.04 275.8,940.44 277.1,940.56 278.4,940.72 279.6,940.48 280.9,940.23 282.1,939.87 283.4,940.37 284.6,940.51 285.9,940.19 287.2,940.20 288.4,939.79 289.7,939.95 290.9,940.14 292.2,940.29 293.4,939.88 294.7,940.00 295.9,940.24 297.1,940.02 298.4,939.96 299.6,939.65 300.8,940.01 302.1,939.53 303.3,939.73 304.5,940.07 305.7,940.02 306.9,940.05 308.2,939.42 309.4,939.97 310.6,939.60 311.9,939.34 313.1,939.92 314.3,939.60 315.5,939.96 316.8,939.99 318.0,939.50 319.2,939.41 320.4,939.98 321.7,939.83 322.9,940.02 324.1,939.70 325.3,939.95 326.6,940.31 327.8,940.32 329.1,940.66 330.3,941.05 331.5,940.98 332.8,941.71 334.0,941.70 335.2,942.05 336.5,943.04 337.7,943.25 339.0,943.75 340.2,943.80 341.5,943.16 342.8,942.87 344.1,942.27 345.4,942.20 346.6,941.81 347.8,942.05 349.0,942.01 350.3,941.89 351.5,942.00 352.7,942.49 353.9,941.97 355.1,942.36 356.4,942.59 357.6,941.81 358.8,942.37 360.0,942.20 361.2,941.93 362.4,942.05 363.6,942.25 364.8,942.87 365.9,942.97 367.1,942.47 368.3,943.13 369.5,942.64 370.7,943.00 372.0,942.52 373.2,942.36 374.5,941.60 375.8,941.91 377.0,941.33 378.3,941.74 379.6,941.68 380.9,941.96 382.1,942.19 383.4,942.04 384.7,942.44 385.9,942.51 387.2,942.30 388.5,942.15 389.8,942.21 391.1,942.49 392.5,942.94 393.8,943.33 395.1,943.75 396.4,943.80 397.7,944.45 399.0,945.07 400.2,945.86 401.5,947.01 402.8,948.40 404.1,950.85 405.5,954.70 407.0,962.00 408.1,962.53 409.1,963.00 410.3,968.32 411.6,977.15 412.8,981.80 414.1,975.69 415.5,965.70 416.9,956.80 418.3,950.20 419.5,947.62 420.7,945.78 421.9,944.70 423.1,944.05 424.3,943.53 425.5,943.23 426.8,942.96 428.0,942.39 429.2,942.30 430.5,942.30 431.8,942.33 433.0,942.18 434.3,941.86 435.6,941.66 436.9,940.82 438.2,941.03 439.4,941.11 440.7,940.88 442.0,941.10 443.2,940.75 444.4,941.01 445.6,941.63 446.9,941.05 448.1,941.98 449.3,941.01 450.5,941.68 451.7,942.23 453.0,942.48 454.2,941.81 455.4,942.18 456.6,942.90 458.0,942.78 459.4,943.97 460.7,944.17 462.1,945.60 463.2,946.95 464.4,948.96 465.5,950.68 466.6,952.00 467.8,950.05 469.0,948.40 470.6,951.97 472.1,955.70 473.3,951.01 474.5,945.60 475.8,944.43 477.2,943.49 478.5,943.80 479.9,943.88 481.2,944.93 482.6,944.72 484.0,945.60 485.4,945.49 486.7,944.47 488.0,944.80 489.4,943.40 491.0,939.20" fill="none" stroke="#c86a1e" stroke-width="1.65" stroke-linejoin="round" stroke-linecap="round"/>
<polyline points="51.0,1086.50 52.2,1086.61 53.4,1086.74 54.7,1086.87 55.9,1087.01 57.1,1087.15 58.3,1087.29 59.5,1087.43 60.8,1087.57 62.0,1087.69 63.2,1087.80 64.4,1087.90 65.6,1087.98 66.9,1088.05 68.1,1088.09 69.3,1088.10 70.6,1088.04 71.9,1087.89 73.2,1087.71 74.5,1087.56 75.8,1087.50 77.2,1087.91 78.5,1088.69 79.9,1089.10 81.1,1087.80 82.3,1086.50 83.5,1086.50 84.7,1086.50 85.9,1086.50 87.2,1086.50 88.4,1086.50 89.6,1086.50 90.8,1086.50 92.0,1086.92 93.1,1088.01 94.2,1089.49 95.4,1091.10 96.6,1093.26 97.9,1096.16 99.1,1099.48 100.3,1102.93 101.6,1106.21 102.8,1109.00 104.0,1111.36 105.2,1113.61 106.4,1115.74 107.7,1117.74 108.9,1119.60 110.1,1121.30 111.3,1123.01 112.5,1124.80 113.7,1126.55 115.0,1128.13 116.2,1129.42 117.4,1130.28 118.6,1130.60 119.8,1130.28 121.1,1129.43 122.3,1128.22 123.6,1126.82 124.8,1125.40 126.0,1123.84 127.1,1121.86 128.3,1119.63 129.5,1117.32 130.7,1115.08 131.8,1113.08 133.0,1111.50 134.3,1110.12 135.6,1108.91 137.0,1107.83 138.3,1106.81 139.6,1105.80 140.8,1104.83 142.1,1103.85 143.3,1102.88 144.5,1101.94 145.7,1101.05 146.9,1100.23 148.2,1099.51 149.4,1098.90 150.8,1098.34 152.2,1097.87 153.6,1097.44 155.0,1097.00 156.2,1096.59 157.4,1096.17 158.7,1095.74 159.9,1095.32 161.1,1094.92 162.4,1094.56 163.6,1094.25 164.8,1094.00 166.1,1093.78 167.4,1093.55 168.7,1093.35 169.9,1093.17 171.2,1093.03 172.5,1092.93 173.8,1092.90 174.9,1093.88 175.9,1096.02 177.0,1098.10 178.1,1100.11 179.2,1102.27 180.4,1103.99 181.5,1104.70 182.7,1103.29 183.9,1100.20 185.2,1097.11 186.4,1095.70 187.5,1096.32 188.7,1097.48 189.8,1098.10 190.9,1097.21 192.0,1095.23 193.1,1093.18 194.2,1092.10 195.5,1091.82 196.8,1091.59 198.2,1091.43 199.5,1091.33 200.8,1091.30 202.0,1091.30 203.2,1091.31 204.5,1091.32 205.7,1091.33 206.9,1091.35 208.2,1091.37 209.4,1091.39 210.6,1091.42 211.8,1091.45 213.1,1091.48 214.3,1091.52 215.5,1091.55 216.7,1091.59 217.9,1091.63 219.2,1091.68 220.4,1091.72 221.6,1091.77 222.8,1091.81 224.1,1091.86 225.3,1091.91 226.5,1091.95 227.8,1092.00 229.0,1092.05 230.2,1092.10 231.4,1092.16 232.7,1092.23 233.9,1092.32 235.1,1092.42 236.3,1092.52 237.6,1092.63 238.8,1092.74 240.0,1092.84 241.3,1092.94 242.5,1093.02 243.7,1093.09 244.9,1093.15 246.2,1093.19 247.4,1093.20 248.8,1092.06 250.1,1089.94 251.5,1088.80 252.8,1089.07 254.2,1089.75 255.6,1090.67 256.9,1091.62 258.2,1092.43 259.6,1092.90 260.8,1093.10 262.0,1093.20 263.2,1093.20 264.4,1093.20 265.7,1093.20 266.9,1093.20 268.1,1093.20 269.4,1093.20 270.6,1093.20 271.8,1093.20 273.0,1093.20 274.2,1093.20 275.5,1093.20 276.7,1093.20 277.9,1093.20 279.1,1093.20 280.4,1093.20 281.6,1093.20 282.8,1093.20 284.0,1093.20 285.3,1093.20 286.5,1093.20 287.7,1093.20 288.9,1093.20 290.2,1093.20 291.4,1093.20 292.7,1093.18 294.0,1093.13 295.3,1093.05 296.5,1092.94 297.8,1092.82 299.1,1092.69 300.4,1092.55 301.7,1092.41 303.0,1092.28 304.3,1092.16 305.5,1092.05 306.8,1091.97 308.1,1091.92 309.4,1091.90 310.6,1091.91 311.8,1091.92 313.1,1091.94 314.3,1091.98 315.5,1092.02 316.8,1092.07 318.0,1092.13 319.2,1092.20 320.5,1092.37 321.8,1092.68 323.2,1093.09 324.5,1093.54 325.8,1094.00 327.0,1094.38 328.1,1094.75 329.3,1095.15 330.5,1095.60 331.7,1096.14 332.8,1096.80 334.0,1097.60 335.1,1098.93 336.1,1100.88 337.2,1102.80 338.5,1105.19 339.7,1107.54 341.0,1108.60 342.1,1107.43 343.2,1104.81 344.3,1102.06 345.4,1100.50 346.7,1099.97 348.0,1099.60 349.4,1099.33 350.7,1099.08 352.0,1098.80 353.2,1098.47 354.4,1098.09 355.6,1097.73 356.9,1097.41 358.1,1097.18 359.3,1097.10 360.6,1098.25 362.0,1100.00 363.1,1099.23 364.2,1098.40 365.4,1098.24 366.5,1099.30 367.7,1100.34 368.9,1101.26 370.0,1101.75 371.2,1101.70 372.6,1101.13 374.0,1098.47 375.4,1098.00 376.8,1098.31 378.1,1097.55 379.5,1098.37 380.9,1098.00 382.2,1098.77 383.4,1099.16 384.7,1099.89 385.9,1100.81 387.2,1101.10 388.6,1100.94 389.9,1101.89 391.3,1101.30 392.7,1102.00 394.1,1102.48 395.4,1103.74 396.8,1105.53 398.2,1106.50 399.4,1107.23 400.5,1108.10 401.7,1109.09 402.9,1110.12 404.1,1110.85 405.2,1111.29 406.4,1111.10 407.6,1110.84 408.7,1110.49 409.9,1110.34 411.1,1110.09 412.3,1110.39 413.4,1109.34 414.6,1109.30 415.8,1108.42 417.1,1105.84 418.3,1104.70 419.6,1103.41 421.0,1101.39 422.4,1100.84 423.7,1100.10 424.9,1100.41 426.1,1100.20 427.4,1099.30 428.6,1099.19 429.8,1099.69 431.0,1099.80 432.2,1100.24 433.4,1099.27 434.6,1098.58 435.7,1098.48 436.9,1098.64 438.1,1097.46 439.3,1097.80 440.5,1097.35 441.6,1098.86 442.8,1098.56 444.0,1099.10 445.2,1099.41 446.3,1099.77 447.5,1100.50 448.7,1101.28 449.9,1101.39 451.1,1100.73 452.3,1101.58 453.6,1102.02 454.8,1101.43 456.0,1102.47 457.2,1101.38 458.4,1102.30 459.6,1103.45 460.8,1104.56 462.0,1104.94 463.3,1106.19 464.5,1107.10 465.7,1107.80 466.9,1107.25 468.1,1108.27 469.4,1108.10 470.6,1108.23 471.8,1108.01 473.0,1107.80 474.4,1107.16 475.8,1106.28 477.1,1105.92 478.5,1106.00 479.6,1106.65 480.8,1105.98 481.9,1107.23 483.0,1107.40 484.2,1106.61 485.5,1105.25 486.7,1103.80 488.0,1100.10 489.4,1095.60 490.8,1092.10 492.2,1088.80" fill="none" stroke="#ff1414" stroke-width="1.65" stroke-linejoin="round" stroke-linecap="round"/>
<text x="124.0" y="139.2" font-size="14" transform="rotate(-90 124.0 139.2)">3431.55</text>
<text x="125.9" y="215.2" font-size="14" transform="rotate(-90 125.9 215.2)">3426.65</text>
<text x="113.7" y="264.4" font-size="14" transform="rotate(-90 113.7 264.4)">3414</text>
<text x="325.8" y="177.4" font-size="13.2" transform="rotate(-90 325.8 177.4)">1735</text>
<text x="342.9" y="198.7" font-size="14" transform="rotate(-90 342.9 198.7)">1629.64</text>
<text x="418.3" y="203.0" font-size="14" transform="rotate(-90 418.3 203.0)">1099.93</text>
<text x="418.3" y="298.0" font-size="14" transform="rotate(-90 418.3 298.0)">10473.35</text>
<text x="459.3" y="288.9" font-size="14.3" transform="rotate(-90 459.3 288.9)">632.65</text>
<text x="474.2" y="284.4" font-size="14.3" transform="rotate(-90 474.2 284.4)">601.79</text>
<text x="486.0" y="284.4" font-size="14.3" transform="rotate(-90 486.0 284.4)">570.93</text>
<text x="124.8" y="515.1" font-size="12" transform="rotate(-90 124.8 515.1)">3431</text>
<text x="123.5" y="695.3" font-size="12" transform="rotate(-90 123.5 695.3)">3414</text>
<text x="418.6" y="530.7" font-size="12" transform="rotate(-90 418.6 530.7)">1035</text>
<text x="417.4" y="704.9" font-size="12" transform="rotate(-90 417.4 704.9)">1047</text>
<text x="347.0" y="974.4" font-size="12" transform="rotate(-90 347.0 974.4)">1625</text>
<text x="343.8" y="1139.3" font-size="12" transform="rotate(-90 343.8 1139.3)">1735</text>
<rect x="107.8" y="470.5" width="20.2" height="228.8" fill="none" stroke="#1a1a1a" stroke-width="1.1" stroke-dasharray="2.4 1.9"/>
<rect x="402.5" y="490.5" width="20.7" height="229.0" fill="none" stroke="#1a1a1a" stroke-width="1.1" stroke-dasharray="2.4 1.9"/>
<rect x="313.6" y="913.6" width="38.0" height="235.9" fill="none" stroke="#1a1a1a" stroke-width="1.1" stroke-dasharray="2.4 1.9"/>
<line x1="530.8" y1="96.8" x2="562.8" y2="96.8" stroke="#c8742c" stroke-width="2.2"/>
<text x="580.4" y="103.0" font-size="18.6">HA/ZnO/GO</text>
<line x1="532.6" y1="119.2" x2="563.9" y2="119.2" stroke="#1eff1e" stroke-width="2.2"/>
<text x="581.9" y="125.8" font-size="18.6">ZnO</text>
<line x1="536.4" y1="145.0" x2="567.7" y2="145.0" stroke="#ff3333" stroke-width="2.2"/>
<text x="585.8" y="151.2" font-size="18.6">GO</text>
<line x1="538.0" y1="167.6" x2="569.9" y2="167.6" stroke="#1414ff" stroke-width="2.2"/>
<text x="587.4" y="173.6" font-size="18.6">HA</text>
<line x1="523.1" y1="539.9" x2="555.0" y2="539.9" stroke="#2828c8" stroke-width="2.2"/>
<text x="573.0" y="546.3" font-size="18.6">HA</text>
<line x1="523.1" y1="572.1" x2="555.0" y2="572.1" stroke="#c86414" stroke-width="2.2"/>
<text x="572.6" y="578.5" font-size="18.6">HA/ZnO/GO</text>
<line x1="533.9" y1="1004.5" x2="565.2" y2="1004.5" stroke="#ff1414" stroke-width="2.2"/>
<text x="583.6" y="1010.5" font-size="18.6">GO</text>
<line x1="533.9" y1="1036.3" x2="565.2" y2="1036.3" stroke="#c86a1e" stroke-width="2.2"/>
<text x="584.0" y="1042.6" font-size="18.6">HA/ZnO/GO</text>
<text x="520.5" y="20.9" font-size="25.4">(a)</text>
<text x="531.5" y="458.6" font-size="25.4">(b)</text>
<text x="531.9" y="904.7" font-size="25.4">(c)</text>
</svg>
</body></html>
